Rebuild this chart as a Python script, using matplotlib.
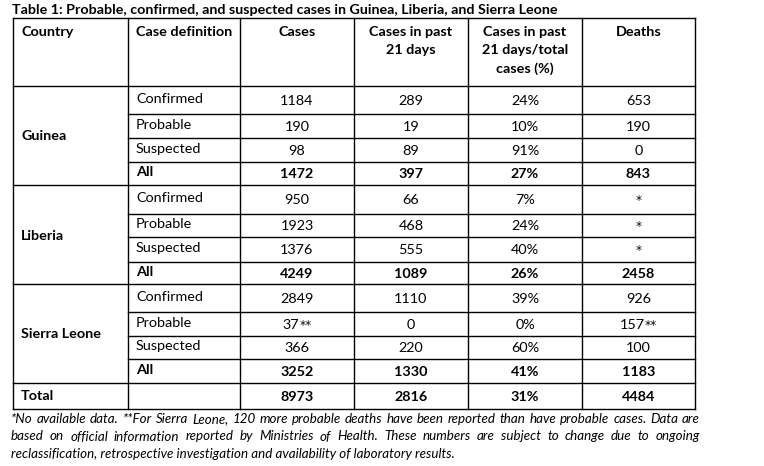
import matplotlib
matplotlib.use("Agg")
import matplotlib.pyplot as plt

plt.rcParams['font.family'] = ['Lato', 'DejaVu Sans']

title = "Table 1: Probable, confirmed, and suspected cases in Guinea, Liberia, and Sierra Leone"
headers = ["Country", "Case definition", "Cases", "Cases in past\n21 days",
           "Cases in past\n21 days/total\ncases (%)", "Deaths"]
countries = ["Guinea", "Liberia", "Sierra Leone"]
case_defs = ["Confirmed", "Probable", "Suspected", "All"]

cases = ["1184", "190", "98", "1472",
         "950", "1923", "1376", "4249",
         "2849", "37**", "366", "3252"]
cases_21d = ["289", "19", "89", "397",
             "66", "468", "555", "1089",
             "1110", "0", "220", "1330"]
pct_21d = ["24%", "10%", "91%", "27%",
           "7%", "24%", "40%", "26%",
           "39%", "0%", "60%", "41%"]
deaths = ["653", "190", "0", "843",
          "*", "*", "*", "2458",
          "926", "157**", "100", "1183"]
total_label = "Total"
total_row = ["8973", "2816", "31%", "4484"]

footnote = [
    "*No available data. **For Sierra Leone, 120 more probable deaths have been reported than have probable cases. Data are",
    "based on official information reported by Ministries of Health. These numbers are subject to change due to ongoing",
    "reclassification, retrospective investigation and availability of laboratory results.",
]

# layout in pixels
W, H = 764, 466
col_x = [13, 128, 240, 354, 468, 582, 695]
row_y = [18, 86, 114, 138, 162, 185, 214, 237, 262, 284, 312, 336, 359, 383, 409]
fs = 10.4
lw = 1.0

fig = plt.figure(figsize=(W / 100, H / 100), dpi=100)
ax = fig.add_axes([0, 0, 1, 1])
ax.set_xlim(0, W)
ax.set_ylim(H, 0)
ax.axis("off")
renderer = fig.canvas.get_renderer()


def width_of(t):
    return t.get_window_extent(renderer).width


def fitted(x, y, s, target, **kw):
    t = ax.text(x, y, s, **kw)
    f = t.get_fontsize()
    t.set_fontsize(f * target / width_of(t))
    return t


def justified(x0, x1, y, s, **kw):
    words = s.split(" ")
    items = [ax.text(0, y, w, **kw) for w in words]
    widths = [width_of(t) for t in items]
    gap = (x1 - x0 - sum(widths)) / (len(words) - 1)
    x = x0
    for t, w in zip(items, widths):
        t.set_x(x)
        x += w + gap


def cell(cx, y, s, weight):
    # Lato's asterisk is tiny, draw the stars in DejaVu Sans
    body = s.rstrip("*")
    stars = s[len(body):]
    parts = []
    if body:
        parts.append(ax.text(0, y, body, fontsize=fs, fontweight=weight, ha="left", va="center"))
    if stars:
        parts.append(ax.text(0, y, stars, fontsize=fs * 0.85, fontweight=weight, ha="left",
                             va="center", family="DejaVu Sans"))
    widths = [width_of(p) for p in parts]
    x = cx - sum(widths) / 2
    for p, w in zip(parts, widths):
        p.set_x(x)
        x += w


# title
fitted(12, 10, title, 544, fontsize=11, fontweight="bold", va="center", ha="left")

# grid lines
ax.plot([col_x[0], col_x[-1]], [row_y[0], row_y[0]], color="black", lw=lw)
ax.plot([col_x[0], col_x[-1]], [row_y[-1], row_y[-1]], color="black", lw=lw)
for i, y in enumerate(row_y[1:-1], start=1):
    full = (i - 1) % 4 == 0 or i == len(row_y) - 2
    x_start = col_x[0] if full else col_x[1]
    ax.plot([x_start, col_x[-1]], [y, y], color="black", lw=lw)
for x in col_x:
    ax.plot([x, x], [row_y[0], row_y[-1]], color="black", lw=lw)

# header
for j, h in enumerate(headers):
    if j < 2:
        ax.text(col_x[j] + 8, 32, h, fontsize=fs, fontweight="bold", ha="left", va="center")
    else:
        cx = (col_x[j] + col_x[j + 1]) / 2
        for k, line in enumerate(h.split("\n")):
            ax.text(cx, 32 + 18.5 * k, line, fontsize=fs, fontweight="bold", ha="center", va="center")

# body
columns = [cases, cases_21d, pct_21d, deaths]
for g, country in enumerate(countries):
    top = row_y[1 + 4 * g]
    bot = row_y[1 + 4 * g + 4]
    ax.text(col_x[0] + 8, (top + bot) / 2 + 1, country, fontsize=fs, fontweight="bold",
            ha="left", va="center")
    for r, cd in enumerate(case_defs):
        i = 4 * g + r
        yc = (row_y[1 + i] + row_y[2 + i]) / 2
        bold = "bold" if cd == "All" else "normal"
        ax.text(col_x[1] + 8, yc - 1, cd, fontsize=fs, fontweight=bold, ha="left", va="center")
        for j, col in enumerate(columns):
            cx = (col_x[j + 2] + col_x[j + 3]) / 2
            cell(cx, yc + 1, col[i], bold)

yc = (row_y[-2] + row_y[-1]) / 2
ax.text(col_x[0] + 8, yc, total_label, fontsize=fs, fontweight="bold", ha="left", va="center")
for j, v in enumerate(total_row):
    cx = (col_x[j + 2] + col_x[j + 3]) / 2
    cell(cx, yc + 1, v, "bold")

# footnote
last = fitted(11, 454, footnote[2], 445, fontsize=9.5, style="italic", ha="left", va="center")
fn_fs = last.get_fontsize()
justified(11, 700, 419, footnote[0], fontsize=fn_fs, style="italic", ha="left", va="center")
justified(11, 700, 436.5, footnote[1], fontsize=fn_fs, style="italic", ha="left", va="center")

fig.savefig("out.png", dpi=100, facecolor="white")
